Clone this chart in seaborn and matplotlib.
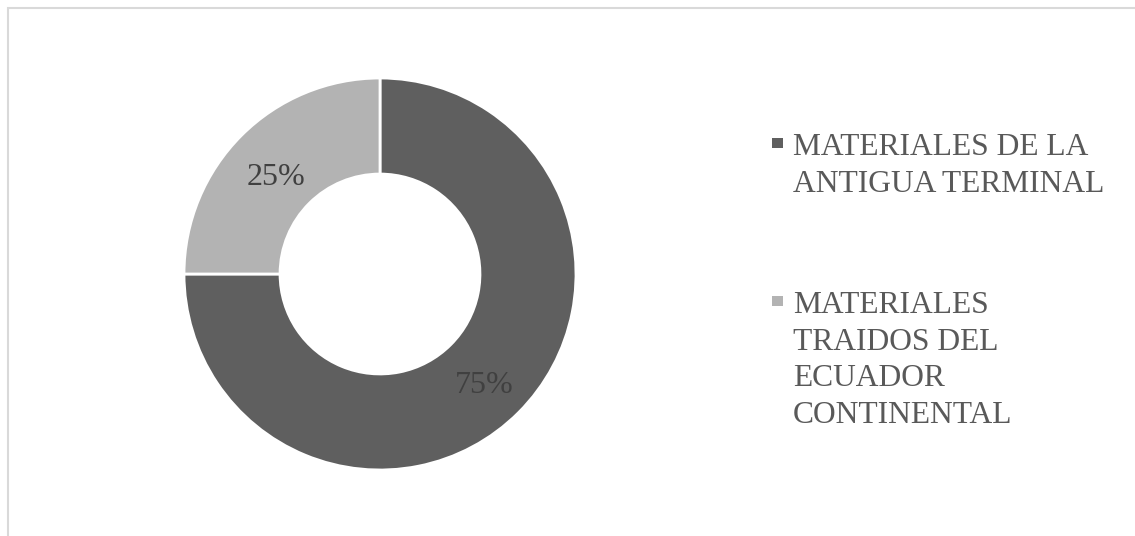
import matplotlib
matplotlib.use("Agg")
import matplotlib.pyplot as plt
import seaborn as sns
from matplotlib.patches import Rectangle

#%% Data
categories = ["MATERIALES DE LA\nANTIGUA TERMINAL",
              "MATERIALES\nTRAIDOS DEL\nECUADOR\nCONTINENTAL"]
values = [75, 25]
colors = ["#5f5f5f", "#b3b3b3"]

#%% Style
sns.set_theme(style="white")
plt.rcParams['font.family'] = ['Liberation Serif', 'DejaVu Serif']

W, H = 1135, 536
fig = plt.figure(figsize=(W / 100, H / 100), dpi=100)

# chart frame (only top and left edges visible)
fig.patches.append(Rectangle((8 / W, -0.1), 1.2, 1.1 - 8 / H,
                             transform=fig.transFigure, fill=False,
                             edgecolor="#d9d9d9", linewidth=1.5))

#%% Donut
cx, cy, r = 380, 274, 196
ax = fig.add_axes([(cx - r) / W, (H - cy - r) / H, 2 * r / W, 2 * r / H])
palette = sns.color_palette(colors)
wedges, _, autotexts = ax.pie(values, colors=palette, startangle=90, counterclock=False,
                              autopct="%1.0f%%", pctdistance=0.75,
                              wedgeprops=dict(width=0.49, edgecolor="white", linewidth=2),
                              textprops=dict(fontsize=23, color="#404040"))
for t in autotexts:
    x, y = t.get_position()
    t.set_position((x, y - 0.04))
ax.set_xlim(-1, 1)
ax.set_ylim(-1, 1)
ax.set_aspect("equal")
ax.axis("off")

#%% Legend (handle aligned with first line of each label)
tops = [137, 295]
for lab, col, top in zip(categories, colors, tops):
    fig.patches.append(Rectangle((772 / W, 1 - (top + 11) / H), 11 / W, 10 / H,
                                 transform=fig.transFigure, facecolor=col,
                                 edgecolor="none"))
    fig.text(793 / W, 1 - (top - 4) / H, lab, fontsize=22.7, color="#595959",
             va="top", ha="left", linespacing=1.35)

fig.savefig("out.png", dpi=100)
